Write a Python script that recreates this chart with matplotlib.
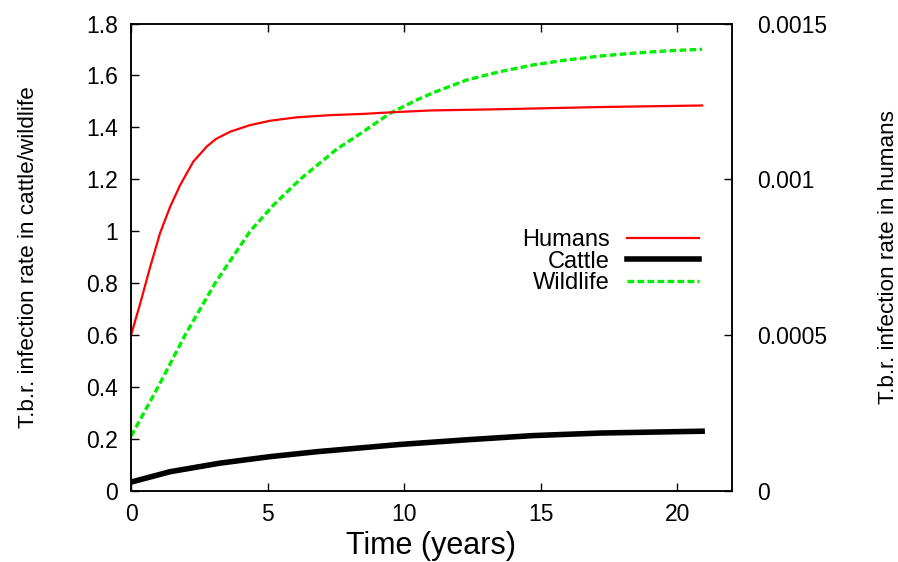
import matplotlib
matplotlib.use("Agg")
import matplotlib.pyplot as plt

plt.rcParams['font.family'] = ['Liberation Sans', 'DejaVu Sans']

# Humans (right axis)
t_humans = [0.0, 0.33, 0.70, 1.06, 1.43, 1.80, 2.28, 2.77, 3.10, 3.63, 4.36, 5.09,
            6.07, 7.29, 8.51, 9.49, 10.95, 13.52, 17.18, 20.91]
humans = [0.000500, 0.000600, 0.000719, 0.000827, 0.000912, 0.000982, 0.001057,
          0.001105, 0.001129, 0.001153, 0.001174, 0.001188, 0.001199, 0.001206,
          0.001210, 0.001215, 0.001221, 0.001225, 0.001232, 0.001237]

# Cattle (left axis)
t_cattle = [0.0, 1.43, 3.26, 5.09, 6.80, 9.85, 12.3, 14.7, 17.2, 20.91]
cattle = [0.033, 0.073, 0.106, 0.131, 0.150, 0.178, 0.196, 0.212, 0.222, 0.229]

# Wildlife (left axis)
t_wild = [0.0, 0.99, 1.98, 3.08, 4.36, 5.21, 6.19, 7.53, 8.51, 9.49, 10.47, 11.07,
          12.3, 13.52, 14.74, 15.96, 17.18, 18.4, 19.63, 20.91]
wildlife = [0.21, 0.40, 0.60, 0.80, 1.00, 1.10, 1.20, 1.316, 1.384, 1.455, 1.506,
            1.534, 1.583, 1.615, 1.641, 1.660, 1.675, 1.686, 1.695, 1.701]

xticks = [0, 5, 10, 15, 20]
left_ticks = [0, 0.2, 0.4, 0.6, 0.8, 1.0, 1.2, 1.4, 1.6, 1.8]
left_labels = ['0', '0.2', '0.4', '0.6', '0.8', '1', '1.2', '1.4', '1.6', '1.8']
right_ticks = [0, 0.0005, 0.001, 0.0015]
right_labels = ['0', '0.0005', '0.001', '0.0015']

fig = plt.figure(figsize=(8.98, 5.62), dpi=100)
ax = fig.add_axes([0.146, 0.127, 0.669, 0.831])
ax2 = ax.twinx()

l_h, = ax2.plot(t_humans, humans, color='#ff0000', lw=1.6, label='Humans')
l_c, = ax.plot(t_cattle, cattle, color='black', lw=4.0, label='Cattle')
l_w, = ax.plot(t_wild, wildlife, color='#00ee00', lw=2.4, ls=(0, (2, 1)), label='Wildlife')

ax.set_xlim(0, 22)
ax.set_ylim(0, 1.8)
ax2.set_ylim(0, 0.0015)
ax.set_xticks(xticks)
ax.set_xticklabels([str(v) for v in xticks])
ax.set_yticks(left_ticks)
ax.set_yticklabels(left_labels)
ax2.set_yticks(right_ticks)
ax2.set_yticklabels(right_labels)

ax.tick_params(axis='x', direction='in', top=True, bottom=True, length=6, width=1,
               labelsize=16.5, pad=9)
ax.tick_params(axis='y', direction='in', left=True, right=False, length=6, width=1,
               labelsize=16.5, pad=9.5)
ax2.tick_params(axis='y', direction='in', right=True, length=6, width=1,
                labelsize=16.5, pad=18)

for a in (ax, ax2):
    for s in a.spines.values():
        s.set_linewidth(1.1)

ax.set_xlabel('Time (years)', fontsize=22, labelpad=3.5)
ax.set_ylabel('T.b.r. infection rate in cattle/wildlife', fontsize=16.2, labelpad=34)
ax2.set_ylabel('T.b.r. infection rate in humans', fontsize=16.2, labelpad=37)

leg = ax.legend([l_h, l_c, l_w], ['Humans', 'Cattle', 'Wildlife'],
                loc='upper right', bbox_to_anchor=(0.965, 0.585), frameon=False,
                markerfirst=False, fontsize=17, handlelength=3.05, handletextpad=0.72,
                labelspacing=-0.02, borderpad=0)

fig.savefig('out.png', dpi=100)
